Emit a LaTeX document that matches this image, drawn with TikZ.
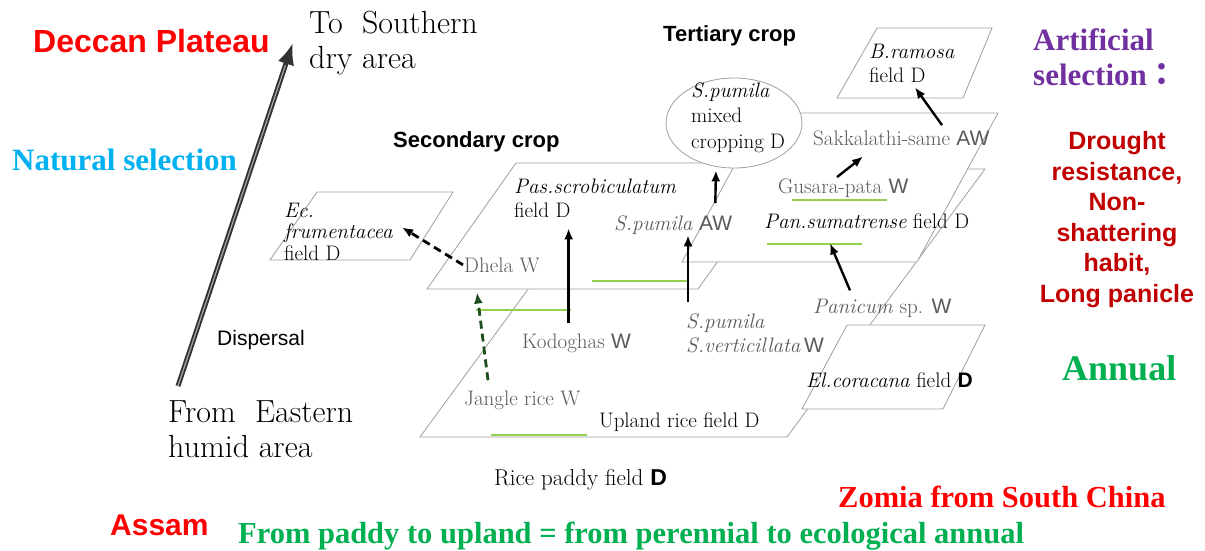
\documentclass[tikz,border=0pt]{standalone}
\usepackage{fontspec}
\newfontfamily\arialf{Liberation Sans}
\newfontfamily\timesf{Liberation Serif}
\newfontfamily\cjkf{Noto Sans CJK JP}
\usetikzlibrary{arrows.meta,shapes.geometric}

\definecolor{deccanred}{HTML}{FF0000}
\definecolor{natblue}{HTML}{00B0F0}
\definecolor{artpurple}{HTML}{7030A0}
\definecolor{traitred}{HTML}{C00000}
\definecolor{annualgreen}{HTML}{00B050}
\definecolor{linegreen}{HTML}{92D050}
\definecolor{darkgreen}{HTML}{1E4D1E}
\definecolor{wildgray}{HTML}{5A5A5A}

\newcommand{\gothW}{{\arialf W}}
\newcommand{\gothAW}{{\arialf AW}}
\newcommand{\gothD}{{\arialf\bfseries D}}

\tikzset{
  fieldplane/.style={draw=gray!75, fill=white, line width=0.8pt},
  lbl/.style={inner sep=1pt, anchor=base west, align=left, font=\fontsize{21}{24}\selectfont},
  wildlbl/.style={lbl, text=wildgray},
  arr/.style={-{Latex[length=11pt,width=9pt]}, line width=2.4pt},
  dasharr/.style={arr, line width=2.8pt, dash pattern=on 8pt off 5pt},
  greenline/.style={linegreen, line width=2.5pt},
  annot/.style={inner sep=0pt, anchor=base west},
}

\begin{document}
\begin{tikzpicture}[x=1pt, y=-1pt]
    \useasboundingbox (0,0) rectangle (1205,550);

    % corners of the fields
    \coordinate (Pd1) at (420,437);
    \coordinate (Pd2) at (787,437);
    \coordinate (Pd3) at (985,169);
    \coordinate (Pd4) at (616,169);
    \coordinate (El1) at (802,409);
    \coordinate (El2) at (943,409);
    \coordinate (El3) at (985,325);
    \coordinate (El4) at (847,325);
    \coordinate (Ec1) at (270,260);
    \coordinate (Ec2) at (410,260);
    \coordinate (Ec3) at (453,192);
    \coordinate (Ec4) at (317,192);
    \coordinate (Br1) at (837,98);
    \coordinate (Br2) at (963,98);
    \coordinate (Br3) at (992,28);
    \coordinate (Br4) at (877,28);
    \coordinate (Sc1) at (427,289);
    \coordinate (Sc2) at (698,289);
    \coordinate (Sc3) at (788,163);
    \coordinate (Sc4) at (516,163);
    \coordinate (Tc1) at (682,262);
    \coordinate (Tc2) at (917,262);
    \coordinate (Tc3) at (998,113);
    \coordinate (Tc4) at (763,113);

    % fields, back to front
    \filldraw[fieldplane] (Pd1) -- (Pd2) -- (Pd3) -- (Pd4) -- cycle;
    \filldraw[fieldplane] (El1) -- (El2) -- (El3) -- (El4) -- cycle;
    \filldraw[fieldplane] (Ec1) -- (Ec2) -- (Ec3) -- (Ec4) -- cycle;
    \filldraw[fieldplane] (Br1) -- (Br2) -- (Br3) -- (Br4) -- cycle;
    \filldraw[fieldplane] (Sc1) -- (Sc2) -- (Sc3) -- (Sc4) -- cycle;
    \filldraw[fieldplane] (Tc1) -- (Tc2) -- (Tc3) -- (Tc4) -- cycle;
    \node[ellipse, draw=gray!75, fill=white, line width=0.8pt, minimum width=136pt, minimum height=90pt, inner sep=0pt] (ell) at (734,123) {};

    % green underlines
    \draw[greenline] (476,310) -- (571,310);
    \draw[greenline] (592,281) -- (688,281);
    \draw[greenline] (491,435) -- (587,435);
    \draw[greenline] (792,200) -- (887,200);
    \draw[greenline] (767,244) -- (862,244);

    % labels in the fields (multi-line ones sit on their last line)
    \node[lbl, font=\fontsize{21}{21.5}\selectfont] (ecf) at (283,260) {\textit{Ec.}\\\textit{frumentacea}\\field D};
    \node[lbl] (pasf) at (513,217) {\textit{Pas.scrobiculatum}\\field D};
    \node[wildlbl] (dhela) at (463,272) {Dhela W};
    \node[wildlbl] (spaw) at (613,230) {\textit{S.pumila} \gothAW};
    \node[wildlbl] (kodo) at (521,348) {Kodoghas \gothW};
    \node[wildlbl] (spv) at (685,352) {\textit{S.pumila}\\\textit{S.verticillata}\,\gothW};
    \node[wildlbl] (jangle) at (463,405) {Jangle rice W};
    \node[lbl] (upland) at (598,427) {Upland rice field D};
    \node[lbl, font=\fontsize{23}{26}\selectfont] (paddy) at (493,485) {Rice paddy field \gothD};
    \node[wildlbl] (panicum) at (812,313) {\textit{Panicum} sp. \gothW};
    \node[lbl] (elc) at (805,387) {\textit{El.coracana} field \gothD};
    \node[lbl] (pans) at (763,228) {\textit{Pan.sumatrense} field D};
    \node[wildlbl] (gus) at (777,193) {Gusara-pata \gothW};
    \node[wildlbl] (sak) at (812,145) {Sakkalathi-same \gothAW};
    \node[lbl] (bram) at (868,82) {\textit{B.ramosa}\\field D};
    \node[lbl, font=\fontsize{21}{25.5}\selectfont] (elltxt) at (690,148) {\textit{S.pumila}\\mixed\\cropping D};

    % crop headings
    \node[annot, font=\arialf\bfseries\fontsize{22}{26}\selectfont] (second) at (393,147) {Secondary crop};
    \node[annot, font=\arialf\bfseries\fontsize{22}{26}\selectfont] (third) at (663,41) {Tertiary crop};
    \node[annot, font=\arialf\fontsize{21}{24}\selectfont] (disp) at (217,345) {Dispersal};

    % dispersal ends
    \node[lbl, font=\fontsize{32}{35}\selectfont] (to) at (308,68) {To~~Southern\\dry area};
    \node[lbl, font=\fontsize{32}{35}\selectfont] (from) at (167,457) {From~~Eastern\\humid area};

    % arrows
    \draw[line width=5pt, black!80, -{Latex[length=22pt,width=17pt]}] ([xshift=11pt,yshift=13pt]from.north west) -- ([xshift=-15pt]to.west);
    \draw[line width=1.2pt, black!35, shorten >=24pt] ([xshift=11pt,yshift=13pt]from.north west) -- ([xshift=-15pt]to.west);
    \draw[dasharr] (dhela.west) -- ([xshift=8pt,yshift=4pt]ecf.east);
    \draw[dasharr, darkgreen] ([xshift=25pt,yshift=9pt]jangle.north west) -- ([xshift=14pt,yshift=-19pt]dhela.south west);
    \draw[arr] ([xshift=-8pt,yshift=9pt]kodo.north) -- ([xshift=-8pt,yshift=-10pt]kodo.north |- pasf.south);
    \draw[arr] ([xshift=3pt,yshift=10pt]spv.north west) -- ([xshift=75pt,yshift=0pt]spaw.south west);
    \draw[arr, shorten >=2pt] ([xshift=-18pt,yshift=11pt]spaw.north east) -- ([xshift=-18pt]ell.south);
    \draw[arr] ([xshift=60pt]gus.north west) -- ([xshift=51pt,yshift=-10pt]sak.south west);
    \draw[arr] ([xshift=130pt,yshift=4pt]sak.north west) -- ([xshift=47pt,yshift=-4pt]bram.south west);
    \draw[arr] ([xshift=38pt,yshift=7pt]panicum.north west) -- ([xshift=67pt,yshift=-14pt]pans.south west);

    % notes round the picture
    \node[annot, font=\arialf\bfseries\fontsize{32}{36}\selectfont, text=deccanred] (deccan) at (33,52) {Deccan Plateau};
    \node[annot, font=\timesf\bfseries\fontsize{31}{35}\selectfont, text=natblue] (natsel) at (12,170) {Natural selection};
    \node[annot, align=left, font=\timesf\bfseries\fontsize{31}{35}\selectfont, text=artpurple] (artsel) at (1033,85) {Artificial\\selection{\cjkf ：}};
    \node[inner sep=0pt, anchor=base, align=center, font=\arialf\bfseries\fontsize{25}{30.5}\selectfont, text=traitred] (trait) at (1117,302) {Drought\\resistance,\\Non-\\shattering\\habit,\\Long panicle};
    \node[annot, font=\timesf\bfseries\fontsize{36}{40}\selectfont, text=annualgreen] (annual) at (1062,380) {Annual};
    \node[annot, font=\timesf\bfseries\fontsize{30.5}{34}\selectfont, text=deccanred] (zomia) at (838,507) {Zomia from South China};
    \node[annot, font=\arialf\bfseries\fontsize{30}{34}\selectfont, text=deccanred] (assam) at (110,535) {Assam};
    \node[annot, font=\timesf\bfseries\fontsize{30.5}{34}\selectfont, text=annualgreen] (paddyline) at (238,543) {From paddy to upland = from perennial to ecological annual};
\end{tikzpicture}
\end{document}
